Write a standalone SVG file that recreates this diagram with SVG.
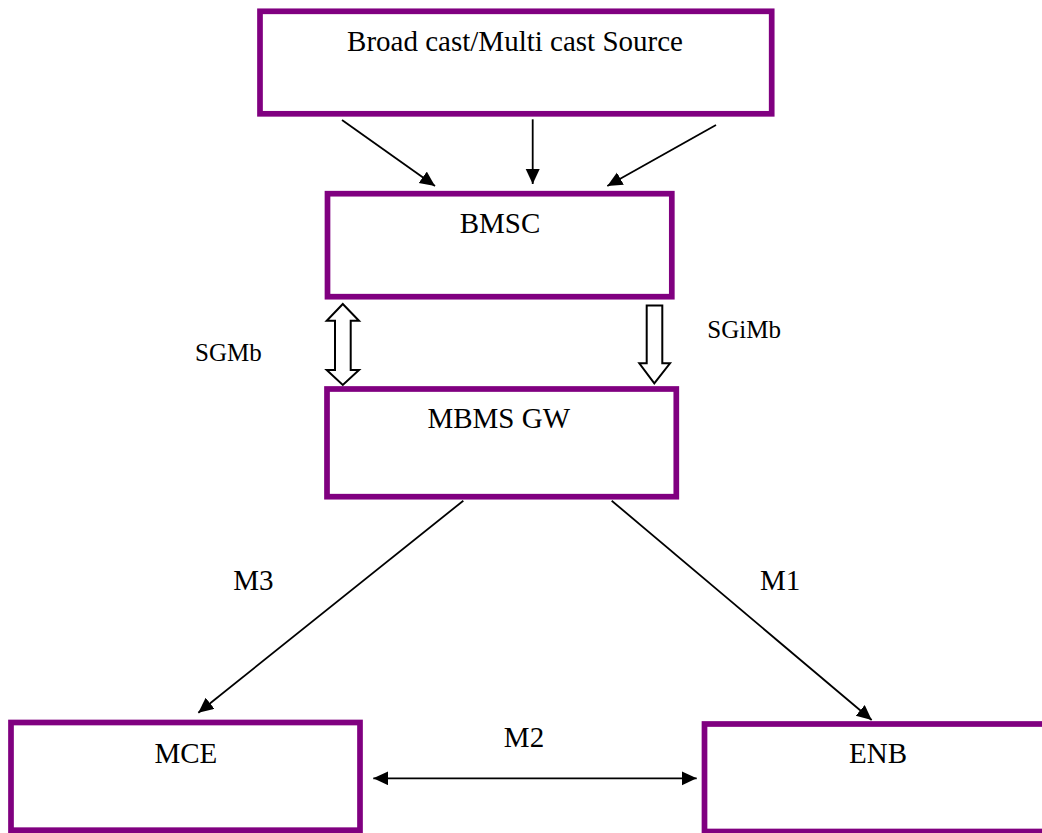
<svg xmlns="http://www.w3.org/2000/svg" width="1042" height="833" viewBox="0 0 1042 833">
  <style>
    .box { fill: #ffffff; stroke: #800080; stroke-width: 5.7; }
    .lbl { font-family: "Liberation Serif", "Times New Roman", serif; font-size: 29px; fill: #000000; }
    .sm { font-family: "Liberation Serif", "Times New Roman", serif; font-size: 25px; fill: #000000; }
    .conn { stroke: #000000; stroke-width: 1.8; fill: none; }
    .hollow { fill: #ffffff; stroke: #000000; stroke-width: 2; stroke-linejoin: miter; }
  </style>
  <defs>
    <marker id="head" markerUnits="userSpaceOnUse" markerWidth="16" markerHeight="15" refX="15" refY="7" orient="auto-start-reverse">
      <path d="M0,0 L15,7 L0,14 z" fill="#000000"/>
    </marker>
  </defs>
  <rect width="1042" height="833" fill="#ffffff"/>

  <g id="source">
    <rect class="box" x="260" y="11.3" width="511.7" height="102.5"/>
    <text class="lbl" x="515" y="50.7" text-anchor="middle">Broad cast/Multi cast Source</text>
  </g>

  <g id="bmsc">
    <rect class="box" x="327.5" y="193.7" width="344.3" height="103"/>
    <text class="lbl" x="500" y="233" text-anchor="middle">BMSC</text>
  </g>

  <g id="mbms-gw">
    <rect class="box" x="327" y="389" width="349.3" height="107.7"/>
    <text class="lbl" x="498.7" y="428.3" text-anchor="middle">MBMS GW</text>
  </g>

  <g id="mce">
    <rect class="box" x="11" y="722.5" width="349" height="107.7"/>
    <text class="lbl" x="185.8" y="762.7" text-anchor="middle">MCE</text>
  </g>

  <g id="enb">
    <rect class="box" x="704.5" y="724" width="400" height="107.5"/>
    <text class="lbl" x="878" y="763.3" text-anchor="middle">ENB</text>
  </g>

  <g id="connectors">
    <!-- source to BMSC -->
    <line class="conn" x1="342" y1="120" x2="435" y2="186" marker-end="url(#head)"/>
    <line class="conn" x1="532.7" y1="119.3" x2="532.7" y2="184" marker-end="url(#head)"/>
    <line class="conn" x1="716" y1="125" x2="607.3" y2="186" marker-end="url(#head)"/>

    <!-- SGMb: hollow double-headed arrow -->
    <path class="hollow" d="M342.8,304 L359,320.7 L350.7,320.7 L350.7,370 L359,370 L342.8,385 L326.7,370 L335,370 L335,320.7 L326.7,320.7 Z"/>
    <!-- SGiMb: hollow down arrow -->
    <path class="hollow" d="M646.7,305.5 L662.3,305.5 L662.3,363.3 L670,363.3 L654.3,383.3 L639.3,363.3 L646.7,363.3 Z"/>

    <!-- M3 / M1 -->
    <line class="conn" x1="463.3" y1="500.7" x2="198.3" y2="712.7" marker-end="url(#head)"/>
    <line class="conn" x1="611.7" y1="500.7" x2="871.7" y2="720" marker-end="url(#head)"/>

    <!-- M2 -->
    <line class="conn" x1="373.3" y1="778.3" x2="696.7" y2="778.3" marker-start="url(#head)" marker-end="url(#head)"/>

    <text class="sm" x="195" y="360.7">SGMb</text>
    <text class="sm" x="707.3" y="338.3">SGiMb</text>
    <text class="lbl" x="233.3" y="590">M3</text>
    <text class="lbl" x="760" y="590">M1</text>
    <text class="lbl" x="524" y="746.7" text-anchor="middle">M2</text>
  </g>
</svg>
